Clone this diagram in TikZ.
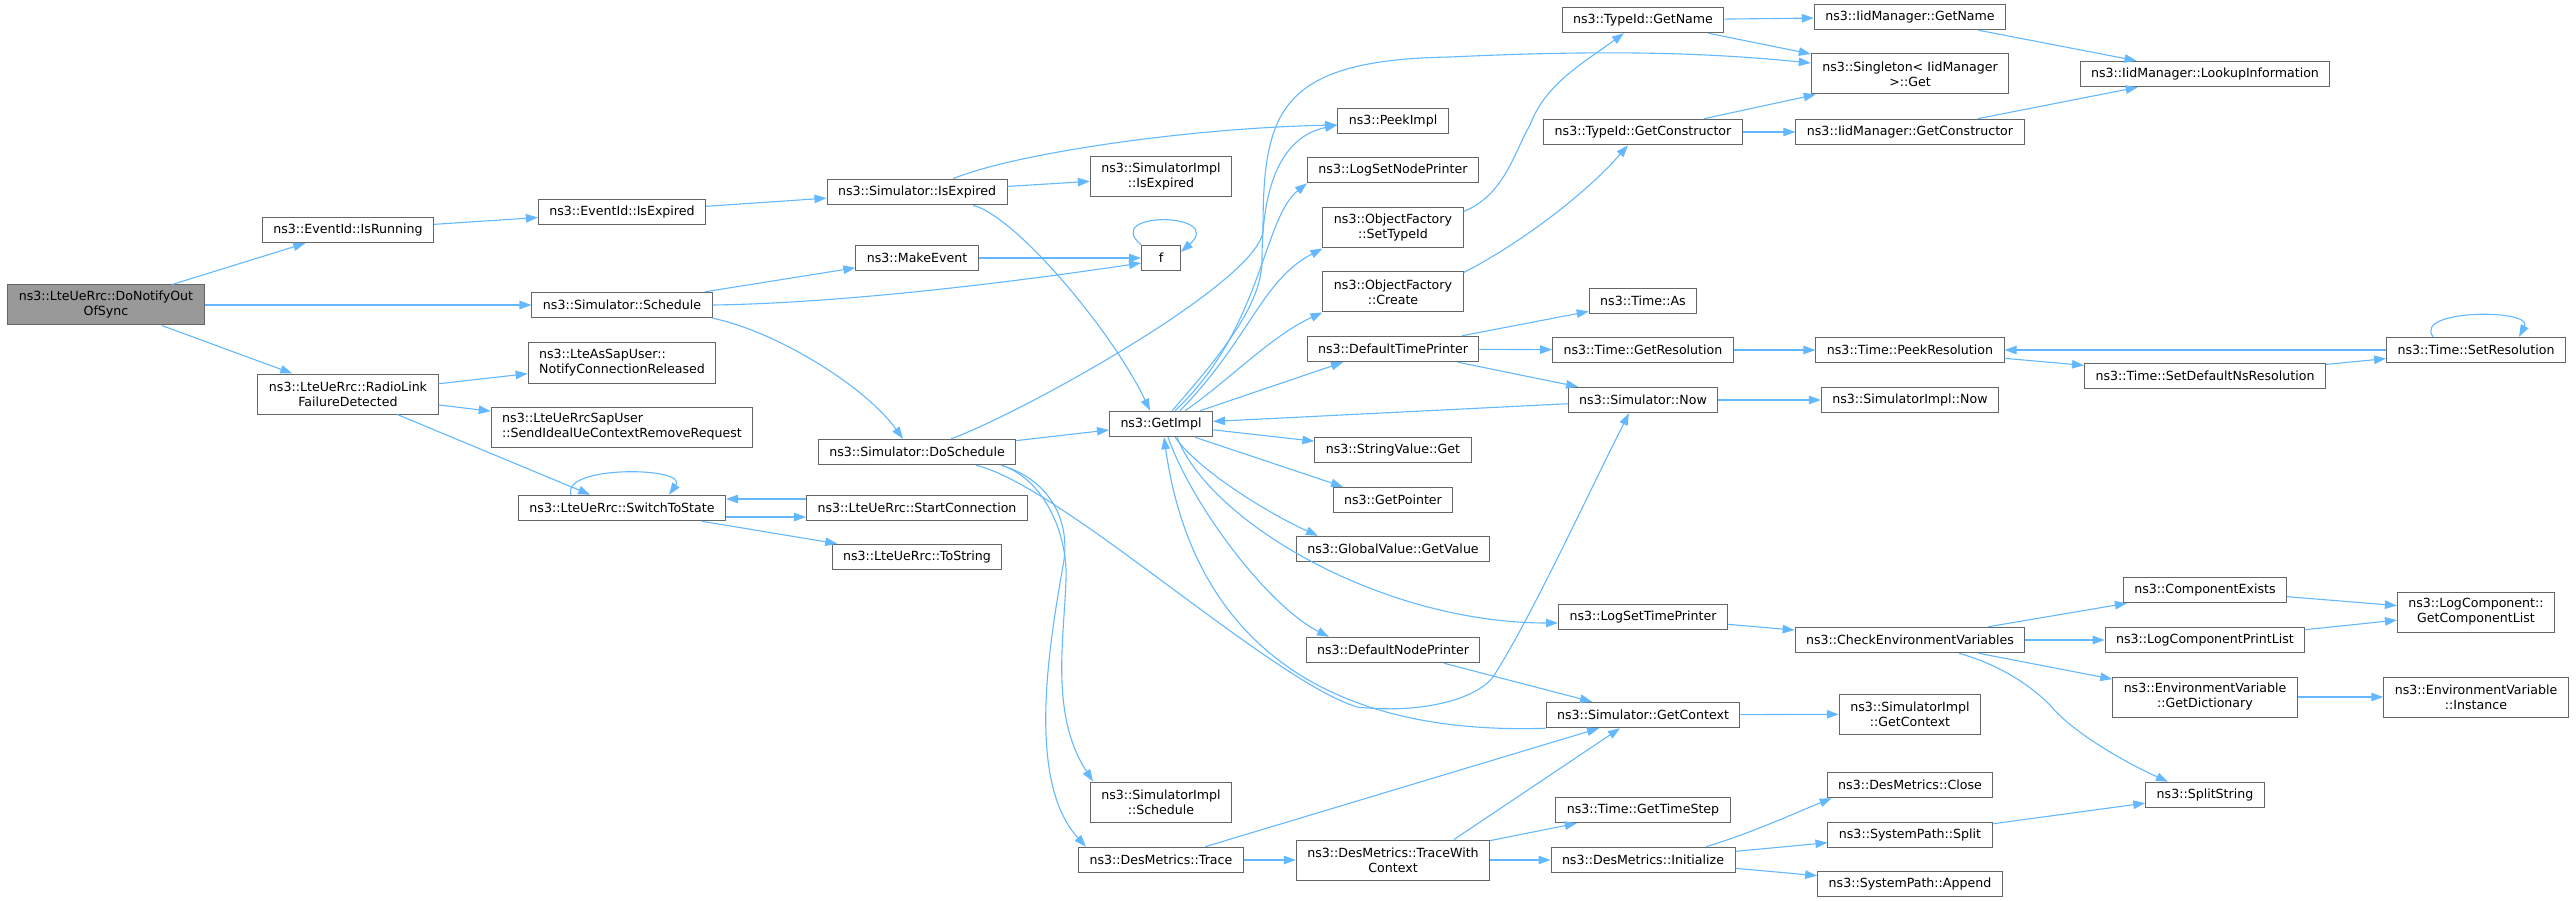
\documentclass[tikz,border=0pt]{standalone}
\usepackage{fontspec}
\setmainfont{DejaVu Sans}
\usetikzlibrary{arrows.meta}
\definecolor{edgeblue}{HTML}{63B8FF}
\definecolor{boxgrey}{HTML}{666666}
\definecolor{rootgrey}{HTML}{999999}
\begin{document}
\begin{tikzpicture}[x=1pt,y=-1pt,
		fn/.style={draw=boxgrey,line width=1pt,fill=white,minimum height=25.5pt,inner xsep=11pt,inner ysep=0pt,font=\fontsize{12.6}{15}\selectfont},
		fn2/.style={fn,align=center,minimum height=40pt},
		call/.style={draw=edgeblue,line width=1.1pt,-{Triangle[length=12pt,width=8.5pt]}}]
	\useasboundingbox (0,0) rectangle (2576,901);
	% functions, column by column
	\node[fn2,fill=rootgrey] (root) at (106,305) {ns3::LteUeRrc::DoNotifyOut\\OfSync};
	\node[fn] (isrun) at (348,230) {ns3::EventId::IsRunning};
	\node[fn2] (rlf) at (348,394) {ns3::LteUeRrc::RadioLink\\FailureDetected};
	\node[fn] (evexp) at (622,212) {ns3::EventId::IsExpired};
	\node[fn] (sched) at (622,305) {ns3::Simulator::Schedule};
	\node[fn2,align=left] (notif) at (622,363) {ns3::LteAsSapUser::\\NotifyConnectionReleased};
	\node[fn2,align=left] (sendideal) at (622,427) {ns3::LteUeRrcSapUser\\::SendIdealUeContextRemoveRequest};
	\node[fn] (switchst) at (622,508) {ns3::LteUeRrc::SwitchToState};
	\node[fn] (simexp) at (917,192) {ns3::Simulator::IsExpired};
	\node[fn] (mkevent) at (917,258) {ns3::MakeEvent};
	\node[fn] (dosched) at (917,452) {ns3::Simulator::DoSchedule};
	\node[fn] (startconn) at (917,508) {ns3::LteUeRrc::StartConnection};
	\node[fn] (tostr) at (917,557) {ns3::LteUeRrc::ToString};
	\node[fn2] (implexp) at (1161,177) {ns3::SimulatorImpl\\::IsExpired};
	\node[fn,minimum width=39pt] (f) at (1161,258) {f};
	\node[fn] (getimpl) at (1161,424) {ns3::GetImpl};
	\node[fn2] (implsched) at (1161,802) {ns3::SimulatorImpl\\::Schedule};
	\node[fn] (trace) at (1161,860) {ns3::DesMetrics::Trace};
	\node[fn] (peekimpl) at (1393,121) {ns3::PeekImpl};
	\node[fn] (lognode) at (1393,170) {ns3::LogSetNodePrinter};
	\node[fn2] (settype) at (1393,228) {ns3::ObjectFactory\\::SetTypeId};
	\node[fn2] (create) at (1393,292) {ns3::ObjectFactory\\::Create};
	\node[fn] (dtimepr) at (1393,349) {ns3::DefaultTimePrinter};
	\node[fn] (strget) at (1393,450) {ns3::StringValue::Get};
	\node[fn] (getptr) at (1393,500) {ns3::GetPointer};
	\node[fn] (gvget) at (1393,549) {ns3::GlobalValue::GetValue};
	\node[fn] (dnodepr) at (1393,650) {ns3::DefaultNodePrinter};
	\node[fn2] (twc) at (1393,860) {ns3::DesMetrics::TraceWith\\Context};
	\node[fn] (tgname) at (1643,20) {ns3::TypeId::GetName};
	\node[fn] (tgctor) at (1643,132) {ns3::TypeId::GetConstructor};
	\node[fn] (timeas) at (1643,301) {ns3::Time::As};
	\node[fn] (getres) at (1643,350) {ns3::Time::GetResolution};
	\node[fn] (now) at (1643,400) {ns3::Simulator::Now};
	\node[fn] (logtime) at (1643,617) {ns3::LogSetTimePrinter};
	\node[fn] (getctx) at (1643,715) {ns3::Simulator::GetContext};
	\node[fn] (tstep) at (1643,810) {ns3::Time::GetTimeStep};
	\node[fn] (init) at (1643,860) {ns3::DesMetrics::Initialize};
	\node[fn] (iidname) at (1910,17) {ns3::IidManager::GetName};
	\node[fn2] (singleton) at (1910,74) {ns3::Singleton< IidManager\\>::Get};
	\node[fn] (iidctor) at (1910,132) {ns3::IidManager::GetConstructor};
	\node[fn] (peekres) at (1910,350) {ns3::Time::PeekResolution};
	\node[fn] (implnow) at (1910,400) {ns3::SimulatorImpl::Now};
	\node[fn] (checkenv) at (1910,640) {ns3::CheckEnvironmentVariables};
	\node[fn2] (implctx) at (1910,714) {ns3::SimulatorImpl\\::GetContext};
	\node[fn] (close) at (1910,785) {ns3::DesMetrics::Close};
	\node[fn] (split) at (1910,835) {ns3::SystemPath::Split};
	\node[fn] (append) at (1910,884) {ns3::SystemPath::Append};
	\node[fn] (lookup) at (2205,74) {ns3::IidManager::LookupInformation};
	\node[fn] (setdefns) at (2205,376) {ns3::Time::SetDefaultNsResolution};
	\node[fn] (compex) at (2205,590) {ns3::ComponentExists};
	\node[fn] (printlist) at (2205,640) {ns3::LogComponentPrintList};
	\node[fn2] (getdict) at (2205,697) {ns3::EnvironmentVariable\\::GetDictionary};
	\node[fn] (splitstr) at (2205,795) {ns3::SplitString};
	\node[fn] (setres) at (2476,350) {ns3::Time::SetResolution};
	\node[fn2] (complist) at (2476,612) {ns3::LogComponent::\\GetComponentList};
	\node[fn2] (instance) at (2476,697) {ns3::EnvironmentVariable\\::Instance};
	% calls
	\draw[call] (root) -- (isrun);
	\draw[call] (root) -- (sched);
	\draw[call] (root) -- (rlf);
	\draw[call] (isrun) -- (evexp);
	\draw[call] (evexp) -- (simexp);
	\draw[call] ([xshift=36pt]simexp.north) .. controls +(60,-25) and +(-150,3) .. ([yshift=-4pt]peekimpl.west);
	\draw[call] (simexp) -- (implexp);
	\draw[call] ([xshift=56pt]simexp.south) .. controls +(45,12) and +(-35,-75) .. ([xshift=-11pt]getimpl.north);
	\draw[call] (sched) -- (mkevent);
	\draw[call] (sched.east) .. controls +(150,-2) and +(-80,12) .. ([yshift=-5pt]f.west);
	\draw[call] (mkevent) -- (f);
	\draw[call] (f.north west) .. controls +(-40,-34) and +(45,-40) .. ([yshift=6pt]f.east);
	\draw[call] (sched.south east) .. controls +(60,12) and +(-40,-55) .. ([xshift=-14pt]dosched.north);
	\draw[call] (rlf) -- (notif);
	\draw[call] (rlf) -- (sendideal);
	\draw[call] (rlf) -- (switchst);
	\draw[call] ([xshift=-51pt]switchst.north) .. controls +(-10,-30) and +(20,-28) .. ([xshift=47pt]switchst.north);
	\draw[call] ([yshift=-9pt]switchst.east) -- ([yshift=-9pt]startconn.west);
	\draw[call] ([yshift=9pt]startconn.west) -- ([yshift=9pt]switchst.east);
	\draw[call] (switchst) -- (tostr);
	\draw[call] (dosched) -- (getimpl);
	\draw[call] ([xshift=34pt]dosched.north) .. controls +(70,-25) and (1262,280) .. (1263,230)
		.. controls (1263,110) and (1280,60) .. (1450,57) .. controls (1600,50) and (1700,52) .. ([yshift=11pt]singleton.west);
	\draw[call] ([xshift=84pt]dosched.south) .. controls (1041,477) and (1068,530) .. (1066,580)
		.. controls (1064,640) and (1050,715) .. ([xshift=-68pt]implsched.north);
	\draw[call] ([xshift=84pt]dosched.south) .. controls (1045,478) and (1070,515) .. (1064,560)
		.. controls (1050,640) and (1025,780) .. ([xshift=-75pt]trace.north);
	\draw[call] ([xshift=59pt]dosched.south) .. controls (1060,485) and (1270,680) .. (1357,707)
		.. controls (1420,714) and (1475,700) .. (1493,677) .. controls (1530,620) and (1590,490) .. ([xshift=-14pt]now.south);
	\draw[call] (getimpl) -- (strget);
	\draw[call] ([xshift=34pt]getimpl.south) -- ([xshift=-50pt]getptr.north);
	\draw[call] ([xshift=14pt]getimpl.south) .. controls +(25,35) and +(-45,-20) .. ([xshift=-75pt]gvget.north);
	\draw[call] ([xshift=7pt]getimpl.south) .. controls +(25,70) and +(-60,-30) .. ([xshift=-64pt]dnodepr.north);
	\draw[call] ([xshift=16pt]getimpl.south) .. controls +(33,85) and +(-176,0) .. ([yshift=-6pt]logtime.west);
	\draw[call] ([xshift=11pt]getimpl.north) .. controls (1230,345) and (1262,300) .. (1262,260)
		.. controls (1262,170) and (1290,135) .. ([yshift=-4pt]peekimpl.west);
	\draw[call] ([xshift=14pt]getimpl.north) .. controls +(87,-82) and +(-44,35) .. (lognode.south west);
	\draw[call] ([xshift=19pt]getimpl.north) .. controls +(70,-72) and +(-61,32) .. (settype.south west);
	\draw[call] ([xshift=24pt]getimpl.north) .. controls +(40,-27) and +(-51,23) .. (create.south west);
	\draw[call] ([xshift=39pt]getimpl.north) -- ([xshift=-50pt]dtimepr.south);
	\draw[call] (now) -- (getimpl);
	\draw[call] (getctx.south west) .. controls +(-243,8) and +(26,184) .. ([xshift=3pt]getimpl.south);
	\draw[call] (dtimepr) -- (timeas);
	\draw[call] (dtimepr) -- (getres);
	\draw[call] (dtimepr) -- (now);
	\draw[call] (getres) -- (peekres);
	\draw[call] (peekres) -- (setdefns);
	\draw[call] (setdefns) -- (setres);
	\draw[call] (setres) -- (peekres);
	\draw[call] ([xshift=-43pt]setres.north) .. controls +(-20,-28) and +(15,-28) .. ([xshift=43pt]setres.north);
	\draw[call] (now) -- (implnow);
	\draw[call] (tgname) -- (iidname);
	\draw[call] (tgname) -- (singleton);
	\draw[call] (tgctor) -- (singleton);
	\draw[call] (tgctor) -- (iidctor);
	\draw[call] (iidname) -- (lookup);
	\draw[call] (iidctor) -- (lookup);
	\draw[call] ([yshift=-4pt]settype.north east) .. controls (1505,195) and (1515,150) .. (1530,125)
		.. controls (1545,85) and (1580,65) .. ([xshift=-19pt]tgname.south);
	\draw[call] ([yshift=-1pt]create.north east) .. controls +(46,-23) and +(-48,55) .. ([xshift=-15pt]tgctor.south);
	\draw[call] (logtime) -- (checkenv);
	\draw[call] (checkenv) -- (compex);
	\draw[call] (checkenv) -- (printlist);
	\draw[call] (checkenv) -- (getdict);
	\draw[call] ([xshift=49pt]checkenv.south) .. controls (2000,665) and (2030,685) .. (2050,705)
		.. controls (2070,730) and (2120,760) .. ([xshift=-37pt]splitstr.north);
	\draw[call] (compex) -- (complist);
	\draw[call] (printlist) -- (complist);
	\draw[call] (getdict) -- (instance);
	\draw[call] (dnodepr) -- (getctx);
	\draw[call] (getctx) -- (implctx);
	\draw[call] (trace) -- (twc);
	\draw[call] (trace) -- (getctx);
	\draw[call] ([xshift=61pt]twc.north) -- ([xshift=-23pt]getctx.south);
	\draw[call] (twc) -- (tstep);
	\draw[call] (twc) -- (init);
	\draw[call] ([xshift=63pt]init.north) .. controls +(46,-14) and +(-42,17) .. ([xshift=5pt]close.south west);
	\draw[call] (init) -- (split);
	\draw[call] (init) -- (append);
	\draw[call] (split) -- (splitstr);
\end{tikzpicture}
\end{document}
